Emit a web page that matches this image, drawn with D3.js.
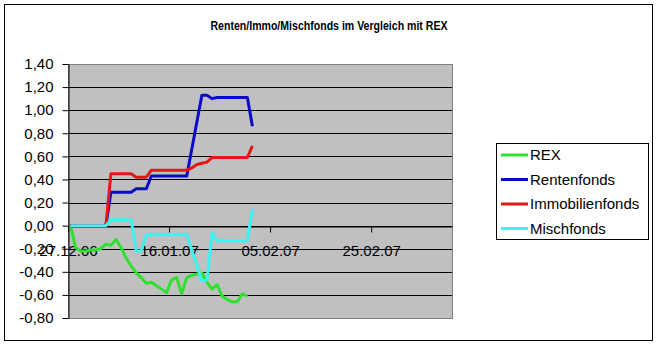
<!DOCTYPE html>
<html>
<head>
<meta charset="utf-8">
<script src="https://cdn.jsdelivr.net/npm/d3@7"></script>
<style>
    body { margin: 0; background: #fff; }
    text { font-family: "Liberation Sans", Arial, sans-serif; }
</style>
</head>
<body>
<script>
//Data (daily values, null = no value that day)
var dates = ["27.12.06", "28.12.06", "29.12.06", "30.12.06", "31.12.06", "01.01.07", "02.01.07", "03.01.07",
    "04.01.07", "05.01.07", "06.01.07", "07.01.07", "08.01.07", "09.01.07", "10.01.07", "11.01.07",
    "12.01.07", "13.01.07", "14.01.07", "15.01.07", "16.01.07", "17.01.07", "18.01.07", "19.01.07",
    "20.01.07", "21.01.07", "22.01.07", "23.01.07", "24.01.07", "25.01.07", "26.01.07", "27.01.07",
    "28.01.07", "29.01.07", "30.01.07", "31.01.07", "01.02.07"
];

var rex = [0.00, -0.19, -0.22, -0.22, -0.21, -0.21, -0.20, -0.16, -0.17, -0.12, -0.19, -0.28, -0.35,
    -0.41, -0.45, -0.50, -0.49, -0.52, -0.55, -0.58, -0.47, -0.45, -0.59, -0.45, -0.43, -0.42, -0.41,
    -0.49, -0.55, -0.51, -0.61, -0.64, -0.66, -0.66, -0.59, -0.61, null
];
var rentenfonds = [0, 0, 0, 0, 0, 0, 0, 0, 0.29, 0.29, 0.29, 0.29, 0.29, 0.32, 0.32, 0.32,
    0.43, 0.43, 0.43, 0.43, 0.43, 0.43, 0.43, 0.43, null, null, 1.13, 1.13, 1.10, 1.11, 1.11,
    1.11, 1.11, 1.11, 1.11, 1.11, 0.86
];
var immobilienfonds = [0, 0, 0, 0, 0, 0, 0, 0, 0.45, 0.45, 0.45, 0.45, 0.45, 0.42, 0.42, 0.42,
    0.48, 0.48, 0.48, 0.48, 0.48, 0.48, 0.48, 0.48, 0.50, 0.53, 0.54, 0.55, 0.59, 0.59, 0.59,
    0.59, 0.59, 0.59, 0.59, 0.59, 0.69
];
var mischfonds = [0, 0, 0, 0, 0, 0, 0, 0, 0.05, 0.05, 0.05, 0.05, 0.05, -0.22, -0.22, -0.08,
    -0.08, -0.08, -0.08, -0.08, -0.08, -0.08, -0.08, -0.08, null, null, -0.48, -0.47, -0.06, -0.13,
    -0.13, -0.13, -0.13, -0.13, -0.13, -0.13, 0.15
];

var seriesNames = ["REX", "Rentenfonds", "Immobilienfonds", "Mischfonds"];
var seriesColors = ["#2fe02f", "#0a0ac8", "#e21818", "#3ef2f2"];
var seriesValues = [rex, rentenfonds, immobilienfonds, mischfonds];

var xTickLabels = ["27.12.06", "16.01.07", "05.02.07", "25.02.07"];
var xMaxLabel = "13.03.07";
var yTicks = [-0.8, -0.6, -0.4, -0.2, 0, 0.2, 0.4, 0.6, 0.8, 1.0, 1.2, 1.4];

//set up the svg dimensions and margins
var margin = {
        top: 64,
        left: 68
    },
    width = 384,
    height = 254;

var svg = d3.select("body").append("svg")
    .attr("width", 658)
    .attr("height", 347);

//outer chart border
svg.append("rect")
    .attr("x", 4.5)
    .attr("y", 4.5)
    .attr("width", 648)
    .attr("height", 336)
    .attr("fill", "#fff")
    .attr("stroke", "#000");

//title
svg.append("text")
    .attr("x", 329)
    .attr("y", 29.5)
    .attr("text-anchor", "middle")
    .attr("font-size", "13px")
    .attr("font-weight", "bold")
    .attr("textLength", 237)
    .attr("lengthAdjust", "spacingAndGlyphs")
    .text("Renten/Immo/Mischfonds im Vergleich mit REX");

var g = svg.append("g")
    .attr("transform", "translate(" + margin.left + "," + margin.top + ")");

var parseDate = d3.utcParse("%d.%m.%y");

var xScale = d3.scaleUtc()
    .domain([parseDate(xTickLabels[0]), parseDate(xMaxLabel)])
    .range([0, width]);

var yScale = d3.scaleLinear()
    .domain([yTicks[0], yTicks[yTicks.length - 1]])
    .range([height, 0]);

var locale = d3.formatLocale({
    decimal: ",",
    thousands: ".",
    grouping: [3],
    currency: ["", " €"],
    minus: "-"
});
var fmt = locale.format(".2f");

//plot area
g.append("rect")
    .attr("x", 0.5)
    .attr("y", 0.5)
    .attr("width", width)
    .attr("height", height)
    .attr("fill", "#c0c0c0")
    .attr("stroke", "#808080");

//gridlines
g.selectAll(".grid")
    .data(yTicks.slice(1, -1))
    .enter().append("line")
    .attr("class", "grid")
    .attr("x1", 0)
    .attr("x2", width)
    .attr("y1", function(d) { return Math.round(yScale(d)) + 0.5; })
    .attr("y2", function(d) { return Math.round(yScale(d)) + 0.5; })
    .attr("stroke", "#000");

//y axis
var yAxis = g.append("g")
    .attr("transform", "translate(0.5,0)")
    .call(d3.axisLeft(yScale)
        .tickValues(yTicks)
        .tickFormat(fmt)
        .tickSize(6)
        .tickSizeOuter(0)
        .tickPadding(9));
yAxis.selectAll("text").attr("font-size", "15px").attr("font-family", null).attr("fill", "#000");
yAxis.selectAll(".tick line").attr("stroke", "#000");
yAxis.select(".domain").attr("stroke", "#000");

//x axis crossing at 0
var xAxis = g.append("g")
    .attr("transform", "translate(0," + (Math.round(yScale(0)) + 0.5) + ")")
    .call(d3.axisBottom(xScale)
        .tickValues(xTickLabels.map(parseDate))
        .tickFormat(d3.utcFormat("%d.%m.%y"))
        .tickSize(6)
        .tickSizeOuter(0));
xAxis.selectAll("text")
    .attr("font-size", "15px")
    .attr("font-family", null)
    .attr("fill", "#000")
    .attr("y", 29.5)
    .attr("dy", null);
xAxis.selectAll(".tick line").attr("stroke", "#000");
xAxis.select(".domain").attr("stroke", "#000");

//series lines, points sit in the middle of each day
var line = d3.line()
    .x(function(d) { return xScale(d3.utcHour.offset(parseDate(d.date), 12)); })
    .y(function(d) { return yScale(d.value); });

seriesValues.forEach(function(values, i) {
    var points = dates.map(function(date, j) {
        return { date: date, value: values[j] };
    }).filter(function(d) { return d.value !== null; });

    g.append("path")
        .datum(points)
        .attr("fill", "none")
        .attr("stroke", seriesColors[i])
        .attr("stroke-width", 3)
        .attr("stroke-linejoin", "round")
        .attr("d", line);
});

//legend
var legend = svg.append("g");
legend.append("rect")
    .attr("x", 496.5)
    .attr("y", 143.5)
    .attr("width", 152)
    .attr("height", 96)
    .attr("fill", "#fff")
    .attr("stroke", "#000");

seriesNames.forEach(function(name, i) {
    var ly = 155 + i * 24.5;
    legend.append("line")
        .attr("x1", 501)
        .attr("x2", 528)
        .attr("y1", ly)
        .attr("y2", ly)
        .attr("stroke", seriesColors[i])
        .attr("stroke-width", 3);
    legend.append("text")
        .attr("x", 530)
        .attr("y", ly)
        .attr("dy", "0.36em")
        .attr("font-size", "15px")
        .text(name);
});
</script>
</body>
</html>
